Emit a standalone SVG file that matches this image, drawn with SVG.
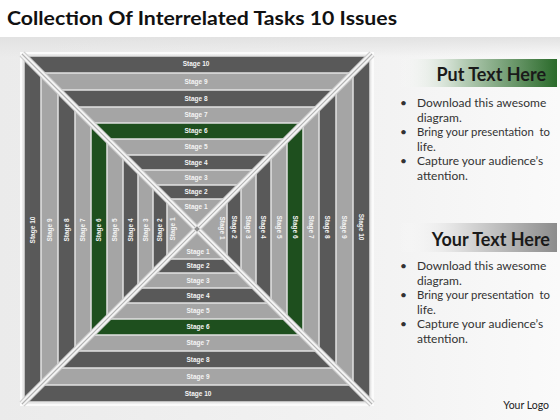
<svg xmlns="http://www.w3.org/2000/svg" width="560" height="420" viewBox="0 0 560 420">
<defs>
<linearGradient id="bg" x1="0" y1="0" x2="1" y2="0">
<stop offset="0" stop-color="#ebebeb"/><stop offset="0.7" stop-color="#f3f3f3"/><stop offset="1" stop-color="#fafafa"/>
</linearGradient>
<linearGradient id="bgTop" x1="0" y1="0" x2="0" y2="1">
<stop offset="0" stop-color="#e2e2e2"/><stop offset="1" stop-color="#e2e2e2" stop-opacity="0"/>
</linearGradient>
<linearGradient id="greenBar" x1="0" y1="0" x2="1" y2="0">
<stop offset="0" stop-color="#ffffff" stop-opacity="0"/><stop offset="0.4" stop-color="#b9cfb9"/><stop offset="1" stop-color="#2a6a2a"/>
</linearGradient>
<linearGradient id="grayBar" x1="0" y1="0" x2="1" y2="0">
<stop offset="0" stop-color="#ffffff" stop-opacity="0"/><stop offset="0.4" stop-color="#dcdcdc"/><stop offset="1" stop-color="#8c8c8c"/>
</linearGradient>
</defs>
<style>
.band{stroke:#e2e2e2;stroke-width:1.5}
.dk{fill:#595959}
.lt{fill:#a5a5a5}
.gr{fill:#1e4f1e}
.lbl{font-family:"Liberation Sans",Arial,sans-serif;font-size:6.5px;font-weight:bold;fill:#f4f4f4;text-anchor:middle}
.diagO{stroke:#cdcdcd;stroke-width:7;stroke-linecap:butt}
.diagI{stroke:#f6f6f6;stroke-width:4.6}
.diagC{stroke:#b3b3b3;stroke-width:1.1}
.body{font-family:Lato,"Liberation Sans",sans-serif;font-size:12px;fill:#333333}
.hdr{font-family:Lato,"Liberation Sans",sans-serif;font-size:18px;font-weight:bold;fill:#1a1a1a;text-anchor:end}
</style>
<rect x="0" y="0" width="560" height="420" fill="#ffffff"/>
<rect x="0" y="37" width="560" height="383" fill="url(#bg)"/>
<rect x="0" y="37" width="560" height="20" fill="url(#bgTop)"/>
<text x="7" y="25" font-family="Lato,'Liberation Sans',sans-serif" font-size="19" font-weight="bold" fill="#111111" textLength="390" lengthAdjust="spacingAndGlyphs">Collection Of Interrelated Tasks 10 Issues</text>
<rect x="21" y="53" width="352" height="352" fill="none" stroke="#fbfbfb" stroke-width="2"/>
<g id="stage-10"><rect class="band dk" x="24" y="56" width="346" height="346"/>
<text class="lbl" x="196" y="66.3">Stage 10</text><text class="lbl" x="198" y="395.8">Stage 10</text>
<text class="lbl" transform="translate(32.5,230) rotate(-90)" y="2.3">Stage 10</text><text class="lbl" transform="translate(361.5,227) rotate(90)" y="2.3">Stage 10</text></g>
<g id="stage-9"><rect class="band lt" x="41" y="73" width="312" height="312"/>
<text class="lbl" x="196" y="83.8">Stage 9</text><text class="lbl" x="198" y="378.8">Stage 9</text>
<text class="lbl" transform="translate(49.5,230) rotate(-90)" y="2.3">Stage 9</text><text class="lbl" transform="translate(344.5,227) rotate(90)" y="2.3">Stage 9</text></g>
<g id="stage-8"><rect class="band dk" x="58" y="90" width="278" height="278"/>
<text class="lbl" x="196" y="100.8">Stage 8</text><text class="lbl" x="198" y="361.8">Stage 8</text>
<text class="lbl" transform="translate(66.5,230) rotate(-90)" y="2.3">Stage 8</text><text class="lbl" transform="translate(327.5,227) rotate(90)" y="2.3">Stage 8</text></g>
<g id="stage-7"><rect class="band lt" x="75" y="107" width="244" height="244"/>
<text class="lbl" x="196" y="117.3">Stage 7</text><text class="lbl" x="198" y="345.3">Stage 7</text>
<text class="lbl" transform="translate(83,230) rotate(-90)" y="2.3">Stage 7</text><text class="lbl" transform="translate(311,227) rotate(90)" y="2.3">Stage 7</text></g>
<g id="stage-6"><rect class="band gr" x="91" y="123" width="212" height="212"/>
<text class="lbl" x="196" y="133.3">Stage 6</text><text class="lbl" x="198" y="329.3">Stage 6</text>
<text class="lbl" transform="translate(99,230) rotate(-90)" y="2.3">Stage 6</text><text class="lbl" transform="translate(295,227) rotate(90)" y="2.3">Stage 6</text></g>
<g id="stage-5"><rect class="band lt" x="107" y="139" width="180" height="180"/>
<text class="lbl" x="196" y="149.3">Stage 5</text><text class="lbl" x="198" y="313.3">Stage 5</text>
<text class="lbl" transform="translate(115,230) rotate(-90)" y="2.3">Stage 5</text><text class="lbl" transform="translate(279,227) rotate(90)" y="2.3">Stage 5</text></g>
<g id="stage-4"><rect class="band dk" x="123" y="155" width="148" height="148"/>
<text class="lbl" x="196" y="164.8">Stage 4</text><text class="lbl" x="198" y="297.8">Stage 4</text>
<text class="lbl" transform="translate(130.5,230) rotate(-90)" y="2.3">Stage 4</text><text class="lbl" transform="translate(263.5,227) rotate(90)" y="2.3">Stage 4</text></g>
<g id="stage-3"><rect class="band lt" x="138" y="170" width="118" height="118"/>
<text class="lbl" x="196" y="179.8">Stage 3</text><text class="lbl" x="198" y="282.8">Stage 3</text>
<text class="lbl" transform="translate(145.5,230) rotate(-90)" y="2.3">Stage 3</text><text class="lbl" transform="translate(248.5,227) rotate(90)" y="2.3">Stage 3</text></g>
<g id="stage-2"><rect class="band dk" x="153" y="185" width="88" height="88"/>
<text class="lbl" x="196" y="194.3">Stage 2</text><text class="lbl" x="198" y="268.3">Stage 2</text>
<text class="lbl" transform="translate(160,230) rotate(-90)" y="2.3">Stage 2</text><text class="lbl" transform="translate(234,227) rotate(90)" y="2.3">Stage 2</text></g>
<g id="stage-1"><rect class="band lt" x="167" y="199" width="60" height="60"/>
<text class="lbl" x="196" y="209.3">Stage 1</text><text class="lbl" x="198" y="254.3">Stage 1</text>
<text class="lbl" transform="translate(173,229) rotate(-90)" y="2.3">Stage 1</text><text class="lbl" transform="translate(222,228) rotate(90)" y="2.3">Stage 1</text></g>
<g id="diagonals">
<line class="diagO" x1="22" y1="54" x2="372" y2="404"/><line class="diagO" x1="372" y1="54" x2="22" y2="404"/>
<line class="diagI" x1="22" y1="54" x2="372" y2="404"/><line class="diagI" x1="372" y1="54" x2="22" y2="404"/>
<line class="diagC" x1="22" y1="54" x2="372" y2="404"/><line class="diagC" x1="372" y1="54" x2="22" y2="404"/>
<rect x="194.5" y="226.5" width="5" height="5" fill="#8f8f8f" stroke="#e8e8e8" stroke-width="1" transform="rotate(45 197 229)"/>
</g>
<g id="panel-top">
<rect x="398" y="59" width="159" height="28" fill="url(#greenBar)"/>
<text class="hdr" x="546" y="81">Put Text Here</text>
<text class="body" x="400" y="107">•</text><text class="body" x="417" y="107">Download this awesome</text>
<text class="body" x="417" y="121.5">diagram.</text>
<text class="body" x="400" y="136">•</text><text class="body" x="417" y="136" xml:space="preserve" textLength="133" lengthAdjust="spacingAndGlyphs">Bring your presentation  to</text>
<text class="body" x="417" y="150.5">life.</text>
<text class="body" x="400" y="165">•</text><text class="body" x="417" y="165">Capture your audience’s</text>
<text class="body" x="417" y="179.5">attention.</text>
</g>
<g id="panel-bottom">
<rect x="398" y="223" width="159" height="29" fill="url(#grayBar)"/>
<text class="hdr" x="550" y="246">Your Text Here</text>
<text class="body" x="400" y="270">•</text><text class="body" x="417" y="270">Download this awesome</text>
<text class="body" x="417" y="284.5">diagram.</text>
<text class="body" x="400" y="299">•</text><text class="body" x="417" y="299" xml:space="preserve" textLength="133" lengthAdjust="spacingAndGlyphs">Bring your presentation  to</text>
<text class="body" x="417" y="313.5">life.</text>
<text class="body" x="400" y="328">•</text><text class="body" x="417" y="328">Capture your audience’s</text>
<text class="body" x="417" y="342.5">attention.</text>
</g>
<text x="549" y="409" font-family="Lato,'Liberation Sans',sans-serif" font-size="10.5" fill="#222222" text-anchor="end">Your Logo</text>
</svg>
